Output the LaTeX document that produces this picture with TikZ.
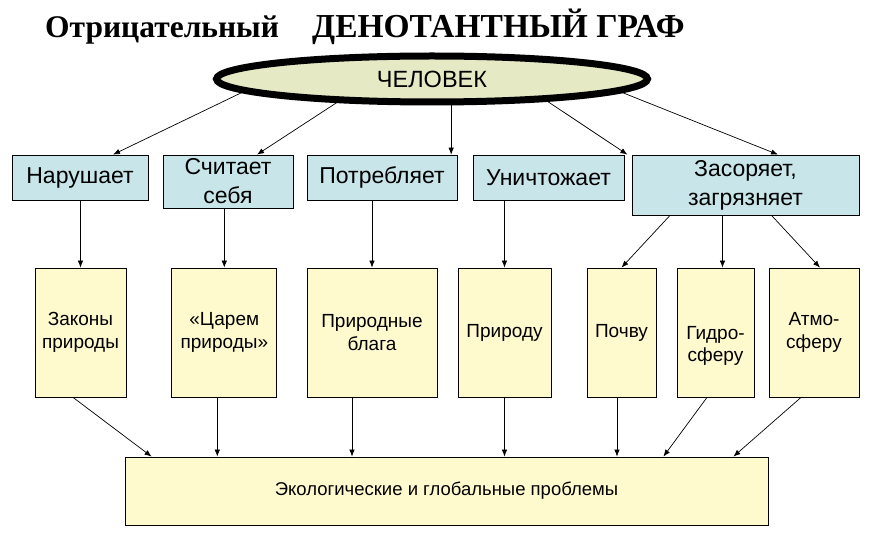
\documentclass[tikz,border=0pt]{standalone}
\usepackage{fontspec}
\setmainfont{Liberation Serif}
\setsansfont{Liberation Sans}
\usetikzlibrary{arrows,arrows.meta,shapes,positioning}
\definecolor{verbblue}{RGB}{200,230,234}
\definecolor{objyellow}{RGB}{255,249,206}
\definecolor{manfill}{RGB}{230,234,196}

\tikzset{
  verb/.style={draw=black, line width=0.8pt, fill=verbblue, font=\sffamily\fontsize{23}{29}\selectfont,
    align=center, minimum height=45pt, inner sep=0pt},
  obj/.style={draw=black, line width=0.8pt, fill=objyellow, font=\sffamily\fontsize{19}{22.5}\selectfont,
    align=center, minimum height=129pt, inner sep=0pt},
  headline/.style={anchor=base west, inner sep=0pt, font=\bfseries\fontsize{31.5}{36}\selectfont}
}

\begin{document}
\begin{tikzpicture}[x=1pt,y=-1pt,>={Latex[length=7pt,width=5.5pt]}]
\useasboundingbox (0,0) rectangle (876,545);

% title
\node[headline] (ttl1) at (45,38) {Отрицательный};
\node[headline, font=\bfseries\fontsize{33.5}{38}\selectfont] (ttl2) at (312,38) {ДЕНОТАНТНЫЙ ГРАФ};

% top
\node[ellipse, draw=black, line width=7pt, fill=manfill, inner sep=0pt,
  minimum width=431pt, minimum height=46pt, font=\sffamily\fontsize{23.5}{28}\selectfont] (chel) at (432,79) {ЧЕЛОВЕК};

% verbs
\node[verb, minimum width=136pt] (nar) at (80,177.5) {Нарушает};
\node[verb, minimum width=130pt, minimum height=53pt] (sch) at (228,181.5) {Считает\\себя};
\node[verb, minimum width=150pt] (potr) at (382,177.5) {Потребляет};
\node[verb, minimum width=151pt] (unich) at (548.5,177.5) {Уничтожает};
\node[verb, minimum width=227pt, minimum height=60pt] (zasor) at (745.5,185) {Засоряет,\\загрязняет};

% objects
\node[obj, minimum width=91pt] (zak) at (80.5,332.5) {Законы\\природы};
\node[obj, minimum width=105pt] (tsar) at (224.3,332.5) {«Царем\\природы»};
\node[obj, minimum width=130pt] (blaga) at (372,332.5) {Природные\\блага};
\node[obj, minimum width=93pt] (prir) at (504.5,332.5) {Природу};
\node[obj, minimum width=69pt] (pochv) at (621.5,332.5) {Почву};
\node[obj, minimum width=77pt] (gidro) at (715.5,332.5)
  {\raisebox{-13.5pt}[\height][\depth]{\begin{tabular}{@{}c@{}}Гидро-\\сферу\end{tabular}}};
\node[obj, minimum width=90pt] (atmo) at (814,332.5) {Атмо-\\сферу};

% result
\node[obj, minimum width=643pt, minimum height=68pt, font=\sffamily\fontsize{18.5}{22}\selectfont] (prob) at (446.5,491)
  {Экологические и глобальные проблемы};

\path[->, line width=0.7pt]
(chel.184.5) edge ([xshift=33pt]nar.north)
(chel.194) edge ([xshift=29pt]sch.north)
(chel.306) edge (chel.306 |- potr.north)
(chel.349) edge ([xshift=3pt]unich.north east)
(chel.356) edge ([xshift=32.5pt]zasor.north)
;

\path[->, line width=0.7pt]
(nar.south -| zak.north) edge (zak.north)
(sch.south -| tsar.north) edge (tsar.north)
(potr.south -| blaga.north) edge (blaga.north)
(unich.south -| prir.north) edge (prir.north)
([xshift=-75.5pt]zasor.south) edge (pochv.north)
([xshift=7pt]gidro.north |- zasor.south) edge ([xshift=7pt]gidro.north)
([xshift=26pt]zasor.south) edge ([xshift=6pt]atmo.north)
;

\path[->, line width=0.7pt]
([xshift=-7.5pt]zak.south) edge ([xshift=27pt]prob.north west)
([xshift=-7pt]tsar.south) edge ([xshift=-7pt]tsar.south |- prob.north)
([xshift=-20pt]blaga.south) edge ([xshift=-20pt]blaga.south |- prob.north)
(prir.south) edge (prir.south |- prob.north)
([xshift=-4.5pt]pochv.south) edge ([xshift=-4.5pt]pochv.south |- prob.north)
([xshift=-8.5pt]gidro.south) edge ([xshift=-105pt]prob.north east)
([xshift=-13pt]atmo.south) edge ([xshift=-35pt]prob.north east)
;

\end{tikzpicture}
\end{document}
